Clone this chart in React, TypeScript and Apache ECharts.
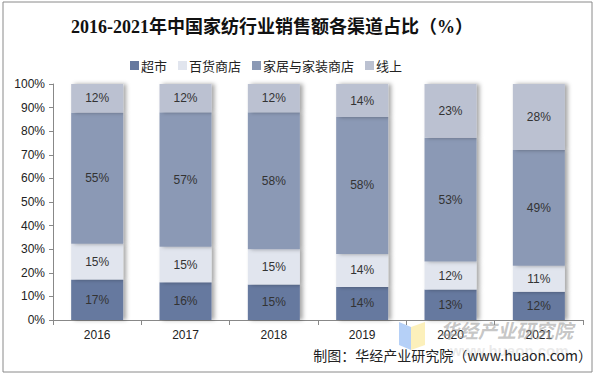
import React, { useEffect, useRef } from "react";
import * as echarts from "echarts";

const years = ["2016", "2017", "2018", "2019", "2020", "2021"];
const supermarket = [17, 16, 15, 14, 13, 12];
const department = [15, 15, 15, 14, 12, 11];
const homeStore = [55, 57, 58, 58, 53, 49];
const online = [12, 12, 12, 14, 23, 28];
const seriesNames = ["超市", "百货商店", "家居与家装商店", "线上"];
const colors = ["#66799f", "#e1e5ee", "#8b99b5", "#bbc1d1"];
const yTicks = [0, 10, 20, 30, 40, 50, 60, 70, 80, 90, 100];

export default function App() {
  const ref = useRef<HTMLDivElement>(null);
  useEffect(() => {
    if (!ref.current) return;
    const chart = echarts.init(ref.current, null, { renderer: "svg" });
    const all = [supermarket, department, homeStore, online];
    const totals = years.map((_, i) => all.reduce((s, a) => s + a[i], 0));
    const series = all.map((arr, k) => ({
      name: seriesNames[k],
      type: "bar",
      stack: "total",
      barWidth: 52,
      data: arr.map((v, i) => ({ value: (v / totals[i]) * 100, raw: v })),
      itemStyle: {
        color: colors[k],
        shadowColor: "rgba(0,0,0,0.35)",
        shadowBlur: 4,
        shadowOffsetX: 3,
      },
      label: {
        show: true,
        position: "inside",
        color: "#333",
        fontSize: 12,
        fontFamily: "Liberation Sans, Arial, sans-serif",
        formatter: (p: any) => p.data.raw + "%",
      },
    }));
    chart.setOption({
      animation: false,
      backgroundColor: "#fff",
      title: {
        text: "2016-2021年中国家纺行业销售额各渠道占比（%）",
        left: 66,
        top: 13,
        textStyle: {
          fontFamily: "Liberation Serif, Noto Sans CJK SC, serif",
          fontWeight: "bold",
          fontSize: 18,
          color: "#111",
        },
      },
      legend: {
        top: 54,
        left: 125,
        itemWidth: 9,
        itemHeight: 9,
        itemGap: 11,
        icon: "rect",
        textStyle: {
          fontFamily: "Noto Sans CJK SC, sans-serif",
          fontSize: 13,
          color: "#222",
          padding: [0, 0, 0, -3],
        },
        data: seriesNames,
      },
      grid: { left: 53, right: 14, top: 84, bottom: 57 },
      xAxis: {
        type: "category",
        data: years,
        axisLine: { lineStyle: { color: "#888" } },
        axisTick: { show: true, length: 5, lineStyle: { color: "#888" } },
        axisLabel: {
          color: "#222",
          fontSize: 12,
          fontFamily: "Liberation Sans, Arial, sans-serif",
          margin: 9,
        },
      },
      yAxis: {
        type: "value",
        min: 0,
        max: 100,
        interval: 10,
        splitLine: { show: false },
        axisLine: { show: true, lineStyle: { color: "#888" } },
        axisTick: { show: true, length: 4, lineStyle: { color: "#888" } },
        axisLabel: {
          color: "#222",
          fontSize: 12,
          fontFamily: "Liberation Sans, Arial, sans-serif",
          margin: 8,
          formatter: (v: number) => (yTicks.includes(v) ? v + "%" : ""),
        },
      },
      series,
      graphic: [
        {
          type: "rect",
          shape: { x: 3, y: 2, width: 589, height: 370 },
          style: { fill: "none", stroke: "#8a8a8a", lineWidth: 1 },
          z: 100,
        },
        {
          type: "polygon",
          shape: { points: [[399, 322], [411, 327], [411, 350], [399, 345]] },
          style: { fill: "rgba(120,170,240,0.55)" },
          z: 100,
        },
        {
          type: "polygon",
          shape: { points: [[411, 327], [425, 322], [425, 345], [411, 350]] },
          style: { fill: "rgba(250,225,120,0.5)" },
          z: 100,
        },
        {
          type: "text",
          x: 440,
          y: 320,
          style: {
            text: "华经产业研究院",
            fontSize: 19,
            fontWeight: "bold",
            fontStyle: "italic",
            fontFamily: "Noto Sans CJK SC, sans-serif",
            fill: "rgba(150,150,150,0.55)",
          },
          z: 100,
        },
        {
          type: "text",
          x: 450,
          y: 343,
          style: {
            text: "www.huaon.com",
            fontSize: 15,
            fontWeight: "bold",
            fontFamily: "Liberation Sans, sans-serif",
            fill: "rgba(170,170,170,0.25)",
          },
          z: 100,
        },
        {
          type: "text",
          right: 5,
          top: 348,
          style: {
            text: "制图：华经产业研究院（www.huaon.com）",
            fontSize: 14,
            fontFamily: "Noto Sans CJK SC, sans-serif",
            fill: "#222",
          },
          z: 101,
        },
      ],
    });
    return () => chart.dispose();
  }, []);
  return (
    <div
      ref={ref}
      style={{ position: "fixed", left: 0, top: 0, width: 597, height: 377 }}
    />
  );
}
